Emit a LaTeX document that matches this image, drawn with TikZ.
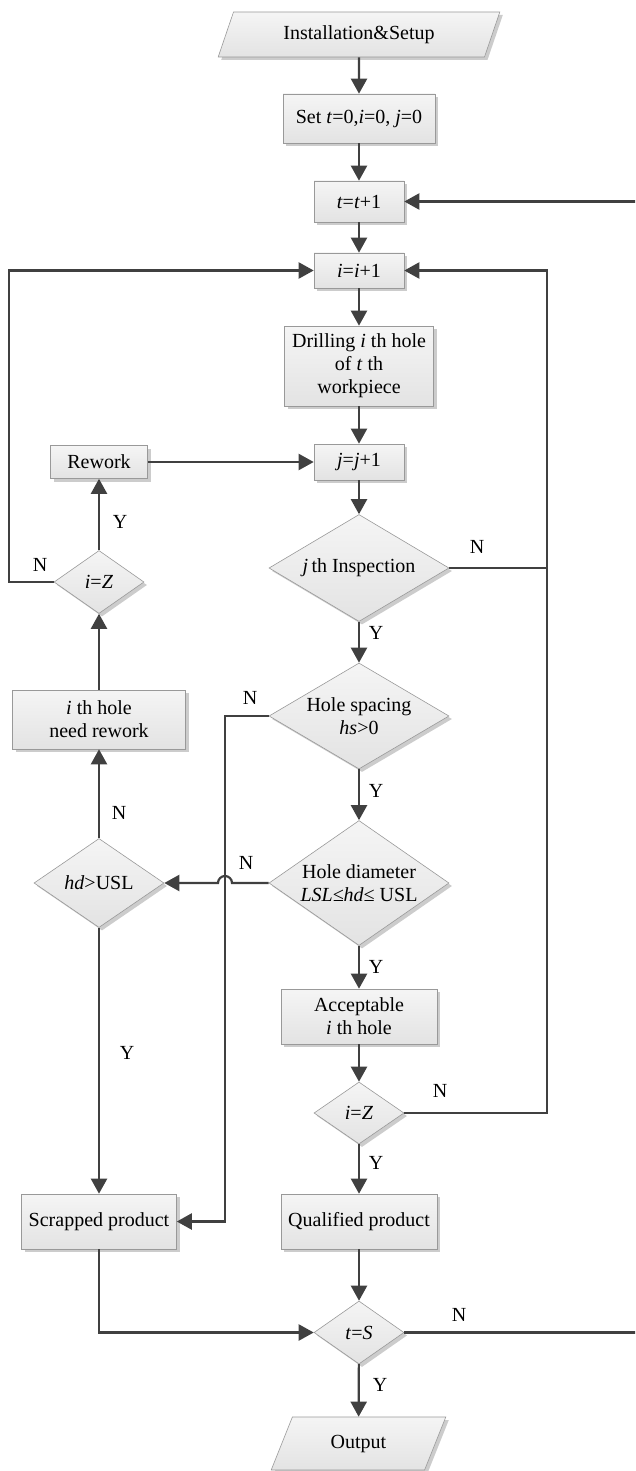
\documentclass[tikz,border=0pt]{standalone}
\usepackage{fontspec}
\setmainfont{Liberation Serif}
\usepackage{tikz}
\usetikzlibrary{shapes.geometric,arrows.meta,shadows}
\newcommand{\va}[1]{\textit{#1}}

\begin{document}
\begin{tikzpicture}[x=1pt, y=-1pt,
  base/.style={draw=gray!80, line width=0.6pt, top color=gray!8, middle color=white, bottom color=gray!22,
    drop shadow={shadow xshift=3pt, shadow yshift=-3pt, fill=black!20, opacity=1},
    font=\fontsize{20}{23}\selectfont, align=center, inner sep=0pt},
  box/.style 2 args={base, rectangle, minimum width=#1, minimum height=#2},
  decision/.style 2 args={base, diamond, aspect=1.6, inner sep=-2pt, minimum width=#1, minimum height=#2},
  io/.style 2 args={base, trapezium, trapezium left angle=63, trapezium right angle=117,
    trapezium stretches=true, minimum width=#1, minimum height=#2},
  line/.style={draw=black!75, line width=2.2pt},
  arr/.style={line, -{Triangle[length=15pt,width=16pt]}},
  lbl/.style={font=\fontsize{20}{23}\selectfont, inner sep=0pt}]
  \useasboundingbox (0,0) rectangle (635,1471);
  \clip (0,0) rectangle (635,1471);

  \node[io={282pt}{45pt}] (install) at (359,34.5) {Installation\&Setup};
  \node[box={152pt}{49pt}] (set) at (359,118.5) {Set \va{t}=0,\va{i}=0, \va{j}=0};
  \node[box={90pt}{41pt}] (tt) at (359,201.5) {\va{t}=\va{t}+1};
  \node[box={90pt}{35pt}] (ii) at (359,270.5) {\va{i}=\va{i}+1};
  \node[box={149pt}{80pt}] (drill) at (359,366) {Drilling \va{i} th hole\\of \va{t} th\\workpiece};
  \node[box={90pt}{36pt}] (jj) at (359,462) {\va{j}=\va{j}+1};
  \node[box={97pt}{33pt}] (rework) at (99,462) {Rework};
  \node[decision={180pt}{107pt}] (insp) at (359,568) {\va{j}\,th Inspection};
  \node[decision={90pt}{63pt}] (iz1) at (99,582) {\va{i}=\va{Z}};
  \node[decision={180pt}{106pt}, aspect=1.7] (hs) at (359,716) {Hole spacing\\\va{hs}>0};
  \node[box={173pt}{59pt}] (needrw) at (99,719.5) {\va{i} th hole\\need rework};
  \node[decision={130pt}{89pt}] (hdusl) at (99,883) {\va{hd}>USL};
  \node[decision={180pt}{125pt}, aspect=1.45] (hdiam) at (359,883) {Hole diameter\\\va{LSL≤hd≤} USL};
  \node[box={156pt}{55pt}] (accept) at (359,1016.5) {Acceptable\\\va{i} th hole};
  \node[decision={90pt}{62pt}] (iz2) at (359,1113) {\va{i}=\va{Z}};
  \node[box={155pt}{55pt}] (scrap) at (99,1221.5) {Scrapped product};
  \node[box={156pt}{55pt}] (qual) at (359,1221.5) {Qualified product};
  \node[decision={90pt}{63pt}] (ts) at (359,1332.5) {\va{t}=\va{S}};
  \node[io={175pt}{53pt}] (output) at (358.5,1443.5) {Output};

  \coordinate (rt) at (547,270.5);
  \coordinate (lt) at (9,270.5);
  \coordinate (vx) at (225,0);
  \coordinate (hop) at (232,883);
  \coordinate (rr) at (642,201.5);

  \draw[arr] (install) -- (set);
  \draw[arr] (set) -- (tt);
  \draw[arr] (tt) -- (ii);
  \draw[arr] (ii) -- (drill);
  \draw[arr] (drill) -- (jj);
  \draw[arr] (rework) -- (jj);
  \draw[arr] (jj) -- (insp);
  \draw[line] (insp.east) -- (insp.east -| rt);
  \draw[arr] (iz2.east) -| (rt) -- (ii.east);
  \draw[arr] (iz1.west) -| (lt) -- (ii.west);
  \draw[arr] (iz1) -- (rework);
  \draw[arr] (needrw) -- (iz1);
  \draw[arr] (hdusl) -- (needrw);
  \draw[arr] (insp) -- (hs);
  \draw[arr] (hs) -- (hdiam);
  \draw[arr] (hs.west) -- (hs.west -| vx) |- (scrap.east);
  \draw[arr] (hdiam.west) -- (hop) arc[start angle=0, end angle=180, radius=7pt] -- (hdusl.east);
  \draw[arr] (hdusl) -- (scrap);
  \draw[arr] (hdiam) -- (accept);
  \draw[arr] (accept) -- (iz2);
  \draw[arr] (iz2) -- (qual);
  \draw[arr] (qual) -- (ts);
  \draw[arr] (scrap.south) |- (ts.west);
  \draw[arr] (ts.east) -| (rr) -- (tt.east);
  \draw[arr] (ts) -- (output);

  \node[lbl] (nInsp) at (477,547) {N};
  \node[lbl] (yInsp) at (376,633) {Y};
  \node[lbl] (nHs) at (250,698) {N};
  \node[lbl] (yHs) at (376,791) {Y};
  \node[lbl] (nHdiam) at (246,863) {N};
  \node[lbl] (yHdiam) at (376,967) {Y};
  \node[lbl] (nHdusl) at (119,813) {N};
  \node[lbl] (yHdusl) at (127,1053) {Y};
  \node[lbl] (yIz1) at (120,522) {Y};
  \node[lbl] (nIz1) at (40,565) {N};
  \node[lbl] (nIz2) at (440,1091) {N};
  \node[lbl] (yIz2) at (376,1163) {Y};
  \node[lbl] (nTs) at (459,1315) {N};
  \node[lbl] (yTs) at (380,1385) {Y};
\end{tikzpicture}
\end{document}
